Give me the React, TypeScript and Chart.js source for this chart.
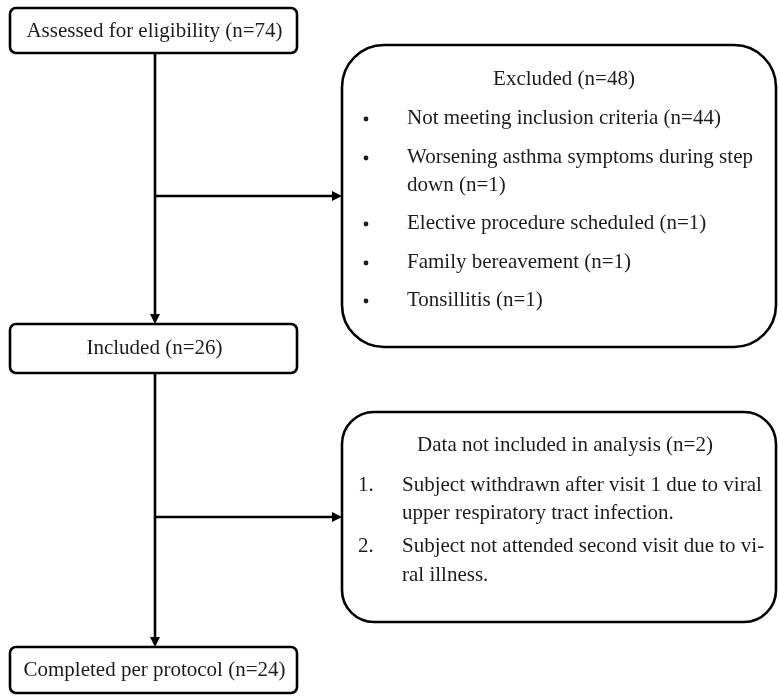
import React, { useEffect, useRef } from "react";
import { Chart, registerables } from "chart.js";

Chart.register(...registerables);

// ---- Data (text content of the flow diagram) ----
const STEP_LABELS = ["Assessed for eligibility", "Included", "Completed per protocol"];
const STEP_COUNTS = [74, 26, 24];

const EXCLUDED_TITLE = "Excluded";
const EXCLUDED_COUNT = 48;
const EXCLUDED_REASONS = [
  ["Not meeting inclusion criteria"],
  ["Worsening asthma symptoms during step", "down"],
  ["Elective procedure scheduled"],
  ["Family bereavement"],
  ["Tonsillitis"],
];
const EXCLUDED_COUNTS = [44, 1, 1, 1, 1];

const DROPPED_TITLE = "Data not included in analysis";
const DROPPED_COUNT = 2;
const DROPPED_REASONS = [
  ["Subject withdrawn after visit 1 due to viral", "upper respiratory tract infection."],
  ["Subject not attended second visit due to vi-", "ral illness."],
];

// ---- Layout (in diagram units, mapped through the chart scales) ----
const W = 778;
const H = 696;
const STEP_BOXES = [
  { x0: 10, y0: 8, x1: 297, y1: 53, r: 6, ty: 31 },
  { x0: 10, y0: 324, x1: 297, y1: 373, r: 6, ty: 348 },
  { x0: 10, y0: 647, x1: 297, y1: 693, r: 6, ty: 670 },
];
const SPINE_X = 155;
const EXCLUDED_BOX = { x0: 342, y0: 45, x1: 776, y1: 347, r: 42 };
const EXCLUDED_TEXT = { titleX: 564, titleY: 79, bulletX: 366, textX: 407, ys: [[118], [157, 185], [223], [262], [300]] };
const DROPPED_BOX = { x0: 342, y0: 412, x1: 776, y1: 622, r: 32 };
const DROPPED_TEXT = { titleX: 565, titleY: 445, numX: 358, textX: 402, ys: [[485, 513], [546, 575]] };

const FONT = '21px "Liberation Serif", "Times New Roman", serif';
const TEXT_COLOR = "#1c1c1c";
const LINE_COLOR = "#000000";

function roundRect(ctx: CanvasRenderingContext2D, x0: number, y0: number, x1: number, y1: number, r: number) {
  ctx.beginPath();
  ctx.moveTo(x0 + r, y0);
  ctx.lineTo(x1 - r, y0);
  ctx.arcTo(x1, y0, x1, y0 + r, r);
  ctx.lineTo(x1, y1 - r);
  ctx.arcTo(x1, y1, x1 - r, y1, r);
  ctx.lineTo(x0 + r, y1);
  ctx.arcTo(x0, y1, x0, y1 - r, r);
  ctx.lineTo(x0, y0 + r);
  ctx.arcTo(x0, y0, x0 + r, y0, r);
  ctx.closePath();
}

const flowPlugin = {
  id: "flowDiagram",
  afterDraw(chart: any) {
    const ctx: CanvasRenderingContext2D = chart.ctx;
    const sx = chart.scales.x;
    const sy = chart.scales.y;
    const px = (v: number) => sx.getPixelForValue(v);
    const py = (v: number) => sy.getPixelForValue(v);

    ctx.save();
    ctx.strokeStyle = LINE_COLOR;
    ctx.fillStyle = TEXT_COLOR;
    ctx.lineWidth = 2.6;
    ctx.lineJoin = "round";

    const box = (b: { x0: number; y0: number; x1: number; y1: number; r: number }) => {
      roundRect(ctx, px(b.x0), py(b.y0), px(b.x1), py(b.y1), b.r);
      ctx.stroke();
    };

    const arrow = (x0: number, y0: number, x1: number, y1: number) => {
      const ax = px(x0), ay = py(y0), bx = px(x1), by = py(y1);
      const ang = Math.atan2(by - ay, bx - ax);
      const len = 10, half = 5;
      ctx.beginPath();
      ctx.moveTo(ax, ay);
      ctx.lineTo(bx - Math.cos(ang) * len * 0.8, by - Math.sin(ang) * len * 0.8);
      ctx.stroke();
      ctx.beginPath();
      ctx.moveTo(bx, by);
      ctx.lineTo(bx - Math.cos(ang) * len - Math.sin(ang) * half, by - Math.sin(ang) * len + Math.cos(ang) * half);
      ctx.lineTo(bx - Math.cos(ang) * len + Math.sin(ang) * half, by - Math.sin(ang) * len - Math.cos(ang) * half);
      ctx.closePath();
      ctx.fillStyle = LINE_COLOR;
      ctx.fill();
      ctx.fillStyle = TEXT_COLOR;
    };

    // connectors
    arrow(SPINE_X, STEP_BOXES[0].y1, SPINE_X, STEP_BOXES[1].y0);
    arrow(SPINE_X, (EXCLUDED_BOX.y0 + EXCLUDED_BOX.y1) / 2, EXCLUDED_BOX.x0, (EXCLUDED_BOX.y0 + EXCLUDED_BOX.y1) / 2);
    arrow(SPINE_X, STEP_BOXES[1].y1, SPINE_X, STEP_BOXES[2].y0);
    arrow(SPINE_X, (DROPPED_BOX.y0 + DROPPED_BOX.y1) / 2, DROPPED_BOX.x0, (DROPPED_BOX.y0 + DROPPED_BOX.y1) / 2);

    // step boxes
    ctx.font = FONT;
    ctx.textBaseline = "middle";
    STEP_BOXES.forEach((b, i) => {
      box(b);
      ctx.textAlign = "center";
      ctx.fillText(`${STEP_LABELS[i]} (n=${STEP_COUNTS[i]})`, px((b.x0 + b.x1) / 2 + 1), py(b.ty));
    });

    // excluded box
    box(EXCLUDED_BOX);
    ctx.textAlign = "center";
    ctx.fillText(`${EXCLUDED_TITLE} (n=${EXCLUDED_COUNT})`, px(EXCLUDED_TEXT.titleX), py(EXCLUDED_TEXT.titleY));
    EXCLUDED_REASONS.forEach((lines, i) => {
      const ys = EXCLUDED_TEXT.ys[i];
      ctx.beginPath();
      ctx.arc(px(EXCLUDED_TEXT.bulletX), py(ys[0]) + 1, 2.4, 0, Math.PI * 2);
      ctx.fill();
      ctx.textAlign = "left";
      lines.forEach((ln, j) => {
        const txt = j === lines.length - 1 ? `${ln} (n=${EXCLUDED_COUNTS[i]})` : ln;
        ctx.fillText(txt, px(EXCLUDED_TEXT.textX), py(ys[j]));
      });
    });

    // dropped box
    box(DROPPED_BOX);
    ctx.textAlign = "center";
    ctx.fillText(`${DROPPED_TITLE} (n=${DROPPED_COUNT})`, px(DROPPED_TEXT.titleX), py(DROPPED_TEXT.titleY));
    DROPPED_REASONS.forEach((lines, i) => {
      const ys = DROPPED_TEXT.ys[i];
      ctx.textAlign = "left";
      ctx.fillText(`${i + 1}.`, px(DROPPED_TEXT.numX), py(ys[0]));
      lines.forEach((ln, j) => {
        ctx.fillText(ln, px(DROPPED_TEXT.textX), py(ys[j]));
      });
    });

    ctx.restore();
  },
};

export default function App() {
  const ref = useRef<HTMLCanvasElement | null>(null);
  useEffect(() => {
    if (!ref.current) return;
    const chart = new Chart(ref.current, {
      type: "scatter",
      data: { datasets: [{ data: [], pointRadius: 0 }] },
      options: {
        animation: false,
        responsive: false,
        maintainAspectRatio: false,
        layout: { padding: 0 },
        plugins: { legend: { display: false }, tooltip: { enabled: false } },
        scales: {
          x: { type: "linear", min: 0, max: W, display: false },
          y: { type: "linear", min: 0, max: H, reverse: true, display: false },
        },
      },
      plugins: [flowPlugin],
    });
    return () => chart.destroy();
  }, []);
  return (
    <div style={{ position: "absolute", left: 0, top: 0, width: W, height: H, background: "#fff" }}>
      <canvas ref={ref} width={W} height={H} style={{ width: W, height: H }} />
    </div>
  );
}
